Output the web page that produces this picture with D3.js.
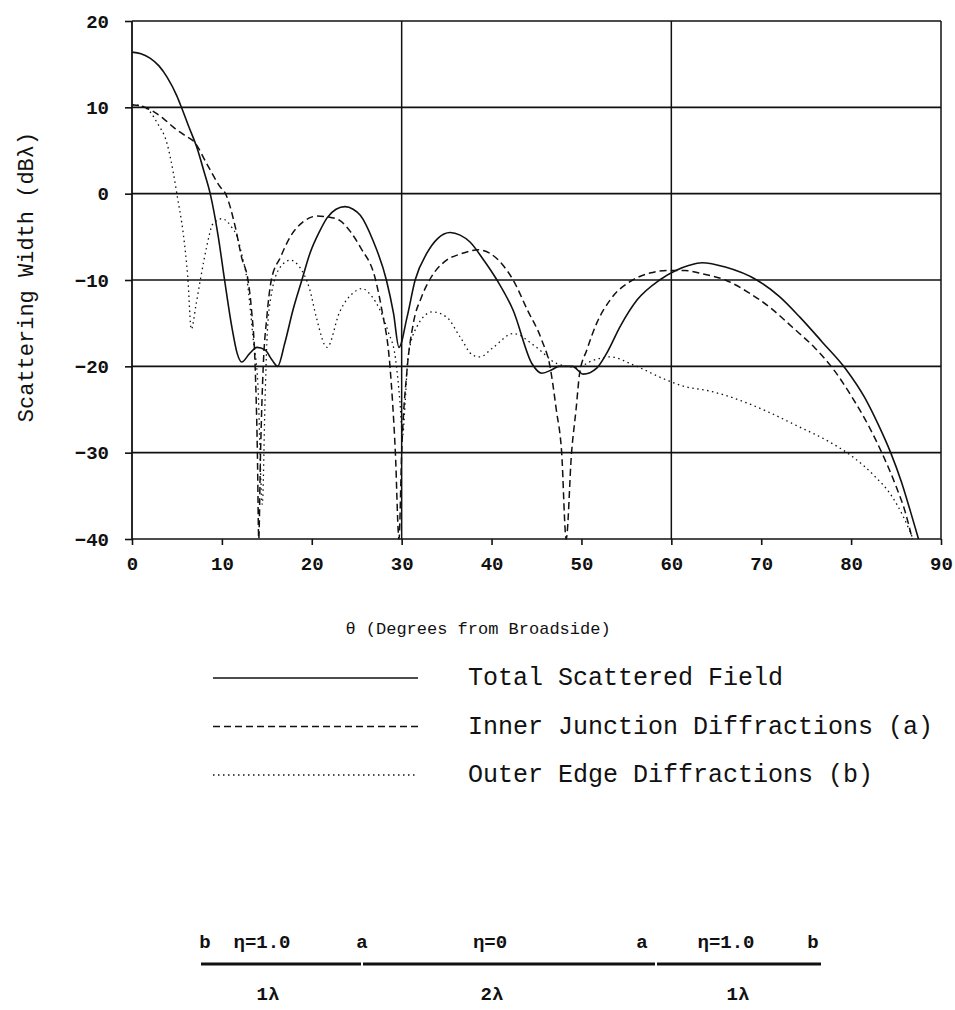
<!DOCTYPE html>
<html>
<head>
<meta charset="utf-8">
<script src="https://cdn.jsdelivr.net/npm/d3@7"></script>
<style>
  body { margin: 0; background: #fff; }
  text { font-family: "Liberation Mono", "Courier New", monospace; fill: #111; }
</style>
</head>
<body>
<svg id="chart" width="955" height="1010"></svg>
<script>
// ---- data ----
const thetaTotal = [0,1,2,3,3.9,5,5.5,6.3,7.2,8,8.7,9.6,10.3,11.1,11.7,12.2,13.1,13.9,14.8,15.6,16.2,17,17.9,18.9,19.8,20.9,21.7,22.7,23.7,24.6,25.4,26.8,28.3,29.1,29.7,30.6,31.5,32.8,34,35.4,36.5,37.6,39,40.6,42.4,44.5,45.6,46.7,47.5,49,50.2,51.7,52.8,54.3,56.2,58.7,60.5,62,63.4,66,69.5,72,74.3,76.8,79.4,81.5,83,84.4,85.6,86.6,87.5];
const dbTotal = [16.4,16.2,15.7,14.8,13.5,11.3,10,7.8,5.4,2.6,0,-5,-10,-15.4,-18.5,-19.5,-18.5,-17.8,-18.1,-19.3,-20,-17.3,-13.5,-10,-6.9,-4.3,-2.8,-1.8,-1.5,-1.8,-2.5,-5.4,-10,-13.9,-17.8,-14.3,-10,-6.9,-5.2,-4.5,-4.8,-5.6,-7.5,-10,-13.5,-19.7,-20.8,-20.4,-20,-20,-20.9,-20.2,-18.5,-15.4,-12.3,-10,-8.9,-8.3,-8.0,-8.5,-10,-11.9,-14.3,-17.2,-20.3,-23.6,-26.7,-30,-33.4,-36.8,-40];

const thetaInner = [0,1.2,2.4,3.5,4.6,5.8,7,8.3,9.8,10.4,11.5,12.2,12.9,13.3,13.7,13.95,14.1,14.3,14.6,15,15.5,16.5,17.6,19,20.6,21.8,23.1,24.3,25.4,27.1,27.8,28.7,29.3,29.7,30,30.6,31.3,32.2,33.1,35,36.5,37.8,38.5,39.8,41.2,42.4,44,45.6,46.5,47.2,47.8,48.3,48.9,49.4,49.8,50.6,51.7,53.2,55.7,57.6,59.5,61.5,63.5,66,68.5,71,73.5,76,78,80,82,83.5,85,86,86.8];
const dbInner = [10.3,10.1,9.5,8.7,7.7,6.8,5.9,3.5,0.8,0,-3.9,-7.4,-10,-13.5,-20,-30,-40,-30,-20,-14.3,-10,-7.4,-5,-3.3,-2.6,-2.7,-3.1,-4.4,-6.2,-10,-13.5,-20,-30,-40,-30,-20.4,-15,-12,-10,-7.7,-7,-6.6,-6.5,-6.9,-8.2,-10,-13.5,-17,-20,-25,-30,-40,-30,-25,-20.8,-18.1,-15,-12.3,-10,-9.2,-8.9,-8.9,-9.3,-10,-11.4,-13.2,-15.5,-17.9,-20.3,-23.4,-27,-30.2,-33.9,-36.8,-40];

const thetaOuter = [0,0.9,2,2.8,3.9,4.6,5.1,5.7,6.2,6.6,7.1,7.6,8.3,9,10,11.1,11.7,12.2,12.8,13.5,14,14.5,14.8,15,15.4,16.5,17.6,18.5,19.8,20.5,21.7,23.1,24.6,25.6,26.6,27.6,28.5,29.3,29.8,30.1,30.4,30.7,31.7,33.4,35,36.5,37.9,38.7,40.2,42.4,45,47.3,49.5,51.3,53.2,55.7,59.5,61.7,64,67,70.6,74,77.5,80.2,82.5,84.5,85.8,86.9];
const dbOuter = [10.3,10.2,9.5,8.2,5.8,2.4,-0.7,-4.6,-9.6,-15.7,-13,-10,-6.2,-3.5,-2.9,-3.9,-5,-7,-10,-17,-22,-36,-24,-17.3,-12.3,-8.5,-7.7,-8.3,-11.2,-14.3,-17.8,-13.7,-11.5,-11,-11.8,-13.5,-16,-19,-24,-28,-24,-19,-15.4,-13.7,-14.3,-16.6,-18.7,-18.9,-17.8,-16.2,-17.8,-19.7,-20.1,-19.3,-18.9,-19.8,-21.6,-22.4,-22.8,-23.7,-25.2,-26.9,-28.7,-30.5,-32.6,-35,-37.4,-40];

const xTicks = [0,10,20,30,40,50,60,70,80,90];
const yTicks = [20,10,0,-10,-20,-30,-40];
const xGrid = [30,60];
const seriesNames = ["Total Scattered Field", "Inner Junction Diffractions (a)", "Outer Edge Diffractions (b)"];
const topLabels = ["b", "\u03b7=1.0", "a", "\u03b7=0", "a", "\u03b7=1.0", "b"];
const bottomLabels = ["1\u03bb", "2\u03bb", "1\u03bb"];

// ---- layout ----
const svg = d3.select("#chart");
const plotL = 132, plotR = 941, plotT = 21, plotB = 539;

const x = d3.scaleLinear().domain([0, 90]).range([plotL, plotR]);
const y = d3.scaleLinear().domain([-40, 20]).range([plotB, plotT]);

const ink = "#111";

// horizontal grid
svg.append("g")
  .selectAll("line")
  .data(yTicks)
  .join("line")
  .attr("x1", plotL).attr("x2", plotR)
  .attr("y1", d => y(d)).attr("y2", d => y(d))
  .attr("stroke", ink).attr("stroke-width", 1.6);

// vertical grid + frame
svg.append("g")
  .selectAll("line")
  .data([0, ...xGrid, 90])
  .join("line")
  .attr("x1", d => x(d)).attr("x2", d => x(d))
  .attr("y1", plotT).attr("y2", plotB)
  .attr("stroke", ink).attr("stroke-width", d => (d === 0 ? 1.8 : 1.5));

// axes (ticks + labels)
const xAxis = svg.append("g")
  .attr("transform", `translate(0,${plotB})`)
  .call(d3.axisBottom(x).tickValues(xTicks).tickSize(6).tickSizeOuter(0).tickPadding(12));
const yAxis = svg.append("g")
  .attr("transform", `translate(${plotL},0)`)
  .call(d3.axisLeft(y).tickValues(yTicks).tickSize(7).tickSizeOuter(0).tickPadding(16));

[xAxis, yAxis].forEach(g => {
  g.select(".domain").remove();
  g.selectAll(".tick line").attr("stroke", ink).attr("stroke-width", 1.6);
  g.selectAll(".tick text")
    .style("font-family", '"Liberation Mono", "Courier New", monospace')
    .style("font-size", "19px")
    .style("font-weight", "bold")
    .attr("fill", ink);
});

// curves
const line = d3.line()
  .x(d => x(d[0]))
  .y(d => y(d[1]))
  .curve(d3.curveMonotoneX);

const series = [
  { name: seriesNames[0], theta: thetaTotal, db: dbTotal, dash: null, width: 1.6 },
  { name: seriesNames[1], theta: thetaInner, db: dbInner, dash: "7,4", width: 1.5 },
  { name: seriesNames[2], theta: thetaOuter, db: dbOuter, dash: "1.5,3.5", width: 1.3 }
];

svg.append("g")
  .selectAll("path")
  .data(series)
  .join("path")
  .attr("d", s => line(d3.zip(s.theta, s.db)))
  .attr("fill", "none")
  .attr("stroke", ink)
  .attr("stroke-width", s => s.width)
  .attr("stroke-dasharray", s => s.dash);

// axis titles
svg.append("text")
  .attr("transform", "translate(33,277) rotate(-90)")
  .attr("text-anchor", "middle")
  .style("font-size", "22px")
  .text("Scattering Width (dB\u03bb)");

svg.append("text")
  .attr("x", 478).attr("y", 634)
  .attr("text-anchor", "middle")
  .style("font-size", "17px")
  .text("\u03b8 (Degrees from Broadside)");

// legend
const legend = svg.append("g")
  .selectAll("g")
  .data(series)
  .join("g")
  .attr("transform", (d, i) => `translate(0,${678 + i * 48.5})`);

legend.append("line")
  .attr("x1", 213).attr("x2", 418)
  .attr("stroke", ink)
  .attr("stroke-width", d => d.width)
  .attr("stroke-dasharray", d => d.dash);

legend.append("text")
  .attr("x", 468).attr("y", 7)
  .style("font-size", "25px")
  .text(d => d.name);

// bottom geometry sketch
const segEdges = [200, 362, 656, 822];
svg.append("g")
  .selectAll("line")
  .data(d3.pairs(segEdges))
  .join("line")
  .attr("x1", d => d[0] + 1).attr("x2", d => d[1] - 1)
  .attr("y1", 964).attr("y2", 964)
  .attr("stroke", ink).attr("stroke-width", 3.2);

const topX = [205, 262, 362, 490, 642, 726, 813];
svg.append("g")
  .selectAll("text")
  .data(topLabels)
  .join("text")
  .attr("x", (d, i) => topX[i]).attr("y", 948)
  .attr("text-anchor", "middle")
  .style("font-size", "19px")
  .style("font-weight", "bold")
  .text(d => d);

const botX = [268, 492, 738];
svg.append("g")
  .selectAll("text")
  .data(bottomLabels)
  .join("text")
  .attr("x", (d, i) => botX[i]).attr("y", 1000)
  .attr("text-anchor", "middle")
  .style("font-size", "19px")
  .style("font-weight", "bold")
  .text(d => d);
</script>
</body>
</html>
